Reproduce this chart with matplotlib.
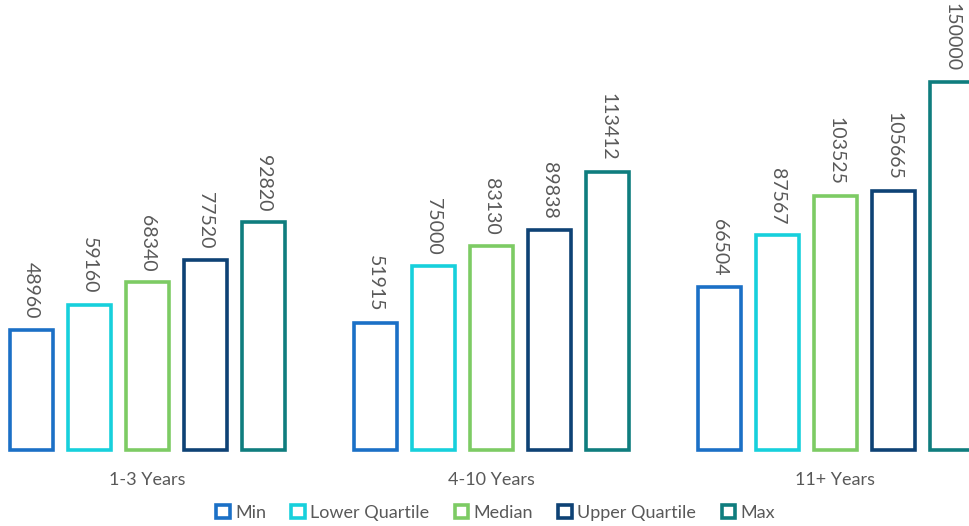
import matplotlib.pyplot as plt
import numpy as np

# salary bands by years of experience
groups = ["1-3 Years", "4-10 Years", "11+ Years"]
series = ["Min", "Lower Quartile", "Median", "Upper Quartile", "Max"]
mins = [48960, 51915, 66504]
lower_q = [59160, 75000, 87567]
medians = [68340, 83130, 103525]
upper_q = [77520, 89838, 105665]
maxs = [92820, 113412, 150000]
colors = ["#1b70c6", "#17d0dc", "#7dcb64", "#0e4275", "#0f7d7e"]

plt.rcParams['font.family'] = ['Lato', 'DejaVu Sans']

fig = plt.figure(figsize=(9.7, 5.26), dpi=100)
ax = fig.add_axes([0, 76 / 526, 1, 450 / 526])

x = np.arange(len(groups))
step = 0.1686
width = 0.125
values = [mins, lower_q, medians, upper_q, maxs]

for i, (name, vals, c) in enumerate(zip(series, values, colors)):
    bars = ax.bar(x + (i - 2) * step, vals, width, facecolor="white",
                  edgecolor=c, linewidth=2.6, label=name, clip_on=False)
    ax.bar_label(bars, labels=[str(v) for v in vals], padding=8,
                 rotation=270, fontsize=14, color="#595959")

ax.set_xlim(-147.5 / 344, (970 - 147.5) / 344)
ax.set_ylim(0, 150000 * 450 / 368)
ax.set_xticks(x)
ax.set_xticklabels(groups, fontsize=13, color="#595959")
ax.tick_params(axis="x", length=0, pad=15.5)
ax.set_yticks([])
for s in ax.spines.values():
    s.set_visible(False)

fig.legend(loc="center", bbox_to_anchor=(0.511, 13 / 526), ncol=5,
           frameon=False, fontsize=13, labelcolor="#595959",
           handlelength=0.75, handleheight=0.75, handletextpad=0.3,
           columnspacing=1.4)

fig.savefig("out.png", dpi=100)
